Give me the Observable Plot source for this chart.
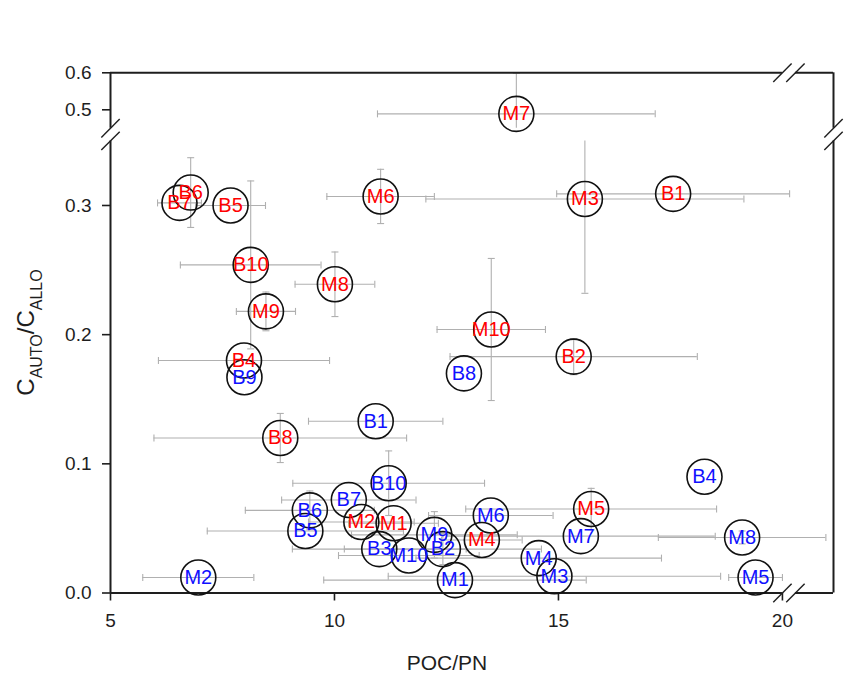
<!DOCTYPE html>
<html>
<head>
<meta charset="utf-8">
<script src="https://cdn.jsdelivr.net/npm/d3@7"></script>
<script src="https://cdn.jsdelivr.net/npm/@observablehq/plot@0.6"></script>
<style>
  body { margin: 0; background: #fff; }
  #chart svg { display: block; }
  #chart g[aria-label*="axis"] text { font-size: 19px !important; }
  #chart g[aria-label*="axis"] path, #chart g[aria-label*="axis"] line { stroke-width: 1.6px; }
</style>
</head>
<body>
<div id="chart"></div>
<script>
// ---- Data ----
const redLabels = ["B1","B2","B4","B5","B6","B7","B8","B10","M1","M2","M3","M4","M5","M6","M7","M8","M9","M10"];
const redX      = [17.56, 15.34, 7.98, 7.68, 6.79, 6.54, 8.79, 8.13, 11.32, 10.60, 15.59, 13.29, 15.73, 11.03, 14.06, 10.01, 8.47, 13.50];
const redY      = [0.309, 0.183, 0.180, 0.300, 0.310, 0.302, 0.120, 0.254, 0.054, 0.055, 0.305, 0.041, 0.065, 0.307, 0.489, 0.239, 0.218, 0.204];
const redXErr   = [2.6, 2.76, 1.91, 0.78, 0, 0.49, 2.82, 1.57, 1.0, 1.18, 3.55, 0.9, 2.8, 1.2, 3.1, 0.89, 0.66, 1.21];
const redYErr   = [0, 0.014, 0, 0, 0.027, 0, 0.019, 0.065, 0, 0, 0.073, 0, 0.016, 0.021, 0.11, 0.025, 0.015, 0.055];

const blueLabels = ["B1","B2","B3","B4","B5","B6","B7","B8","B9","B10","M1","M2","M3","M4","M5","M6","M7","M8","M9","M10"];
const blueX      = [10.92, 12.42, 11.00, 18.26, 9.35, 9.45, 10.32, 12.89, 7.99, 11.21, 12.69, 6.96, 14.91, 14.56, 19.40, 13.49, 15.50, 19.10, 12.23, 11.66];
const blueY      = [0.133, 0.034, 0.034, 0.090, 0.048, 0.064, 0.072, 0.170, 0.167, 0.085, 0.010, 0.012, 0.013, 0.027, 0.012, 0.060, 0.044, 0.043, 0.045, 0.029];
const blueXErr   = [1.5, 2.2, 1.94, 0, 2.19, 1.44, 1.5, 0, 0, 2.14, 2.93, 1.24, 3.71, 2.74, 0.6, 1.39, 3.0, 1.87, 1.85, 1.57];
const blueYErr   = [0, 0.012, 0, 0, 0, 0.015, 0, 0, 0, 0.025, 0, 0, 0, 0, 0, 0, 0, 0.005, 0.018, 0];

const xTicks = [5, 10, 15, 20];
const yTicks = [0.0, 0.1, 0.2, 0.3, 0.5, 0.6];

// axis configuration (broken axes)
const xDomain = [5, 21.14];
const xBreak = [20.0, 20.29];
const lowSeg = [0, 0.35];
const highSeg = [0.45, 0.6];

// ---- Build table ----
function build(labels, xs, ys, xe, ye, color) {
  return labels.map((label, i) => {
    const y = ys[i], x = xs[i];
    const seg = y >= highSeg[0] ? highSeg : lowSeg;
    const ylo = y - ye[i], yhi = y + ye[i];
    const xlo = x - xe[i], xhi = x + xe[i];
    return {
      label, x, y, color, xerr: xe[i], yerr: ye[i],
      ylo: Math.max(seg[0], ylo), yhi: Math.min(seg[1], yhi),
      yloClip: ylo < seg[0], yhiClip: yhi > seg[1],
      xlo: Math.max(xDomain[0], xlo), xhi: Math.min(xDomain[1], xhi),
      xloClip: xlo < xDomain[0], xhiClip: xhi > xDomain[1]
    };
  });
}
const redRows = build(redLabels, redX, redY, redXErr, redYErr, "red");
const blueRows = build(blueLabels, blueX, blueY, blueXErr, blueYErr, "blue");
const allRows = blueRows.concat(redRows);

const hBars = allRows.filter(d => d.xerr > 0);
const vBars = allRows.filter(d => d.yerr > 0);
const hCaps = [];
hBars.forEach(d => {
  if (!d.xloClip) hCaps.push({x: d.xlo, y: d.y});
  if (!d.xhiClip) hCaps.push({x: d.xhi, y: d.y});
});
const vCaps = [];
vBars.forEach(d => {
  if (!d.yloClip) vCaps.push({x: d.x, y: d.ylo});
  if (!d.yhiClip) vCaps.push({x: d.x, y: d.yhi});
});

// custom symbols
const vTick = {draw(ctx, size) { const r = Math.sqrt(size / Math.PI); ctx.moveTo(0, -r); ctx.lineTo(0, r); }};
const hTick = {draw(ctx, size) { const r = Math.sqrt(size / Math.PI); ctx.moveTo(-r, 0); ctx.lineTo(r, 0); }};
const slash = {draw(ctx, size) { const r = Math.sqrt(size / Math.PI) / Math.SQRT2; ctx.moveTo(-r, r); ctx.lineTo(r, -r); }};

const breakMarksY = [
  {x: xDomain[0], y: lowSeg[1]}, {x: xDomain[0], y: highSeg[0]},
  {x: xDomain[1], y: lowSeg[1]}, {x: xDomain[1], y: highSeg[0]}
];
const breakMarksX = [
  {x: xBreak[0], y: lowSeg[0]}, {x: xBreak[1], y: lowSeg[0]},
  {x: xBreak[0], y: highSeg[1]}, {x: xBreak[1], y: highSeg[1]}
];

const frameColor = "#1e1e1e";
const errColor = "#b0b0b0";

const chart = Plot.plot({
  width: 860,
  height: 676,
  marginLeft: 110,
  marginRight: 27,
  marginTop: 72.3,
  marginBottom: 83.5,
  style: {fontFamily: '"Liberation Sans", Arial, sans-serif', fontSize: "19px", background: "#fff", color: "#1e1e1e"},
  x: {type: "linear", domain: xDomain, ticks: xTicks, tickSize: 8, tickPadding: 12, label: null},
  y: {type: "linear", domain: [lowSeg[0], lowSeg[1], highSeg[0], highSeg[1]], range: [592.5, 140.4, 127.8, 72.3],
      ticks: yTicks, tickFormat: d3.format(".1f"), tickSize: 8, tickPadding: 11, label: null},
  marks: [
    // error bars
    Plot.ruleY(hBars, {y: "y", x1: "xlo", x2: "xhi", stroke: errColor, strokeWidth: 1.1}),
    Plot.ruleX(vBars, {x: "x", y1: "ylo", y2: "yhi", stroke: errColor, strokeWidth: 1.1}),
    Plot.dot(hCaps, {x: "x", y: "y", symbol: vTick, r: 3.5, stroke: errColor, strokeWidth: 1.1, fill: "none"}),
    Plot.dot(vCaps, {x: "x", y: "y", symbol: hTick, r: 3.5, stroke: errColor, strokeWidth: 1.1, fill: "none"}),
    // frame with breaks
    Plot.ruleX([xDomain[0], xDomain[1]], {x: d => d, y1: lowSeg[0], y2: lowSeg[1], stroke: frameColor, strokeWidth: 2}),
    Plot.ruleX([xDomain[0], xDomain[1]], {x: d => d, y1: highSeg[0], y2: highSeg[1], stroke: frameColor, strokeWidth: 2}),
    Plot.ruleY([lowSeg[0], highSeg[1]], {y: d => d, x1: xDomain[0], x2: xBreak[0], stroke: frameColor, strokeWidth: 2}),
    Plot.ruleY([lowSeg[0], highSeg[1]], {y: d => d, x1: xBreak[1], x2: xDomain[1], stroke: frameColor, strokeWidth: 2}),
    Plot.dot(breakMarksY, {x: "x", y: "y", symbol: slash, r: 13, stroke: frameColor, strokeWidth: 1.4, fill: "none"}),
    Plot.dot(breakMarksX, {x: "x", y: "y", symbol: slash, r: 13, stroke: frameColor, strokeWidth: 1.4, fill: "none"}),
    // circles
    Plot.dot(allRows, {x: "x", y: "y", r: 17.5, stroke: "#111", strokeWidth: 1.6, fill: "none"}),
    // labels
    Plot.text(blueRows, {x: "x", y: "y", text: "label", fill: "#1010ff", fontSize: 20}),
    Plot.text(redRows, {x: "x", y: "y", text: "label", fill: "#ff0000", fontSize: 20})
  ]
});

document.getElementById("chart").appendChild(chart);

const svg = d3.select(chart.tagName.toLowerCase() === "svg" ? chart : chart.querySelector("svg"));

// axis titles
svg.append("text")
  .attr("x", 447).attr("y", 670)
  .attr("text-anchor", "middle")
  .attr("fill", "#1e1e1e")
  .style("font-size", "21px")
  .text("POC/PN");

const yl = svg.append("text")
  .attr("transform", "translate(33.5,332.5) rotate(-90)")
  .attr("text-anchor", "middle")
  .attr("fill", "#1e1e1e")
  .style("font-size", "24px");
yl.append("tspan").text("C");
yl.append("tspan").attr("dy", 8).style("font-size", "16px").text("AUTO");
yl.append("tspan").attr("dy", -8).text("/C");
yl.append("tspan").attr("dy", 8).style("font-size", "16px").text("ALLO");
</script>
</body>
</html>
